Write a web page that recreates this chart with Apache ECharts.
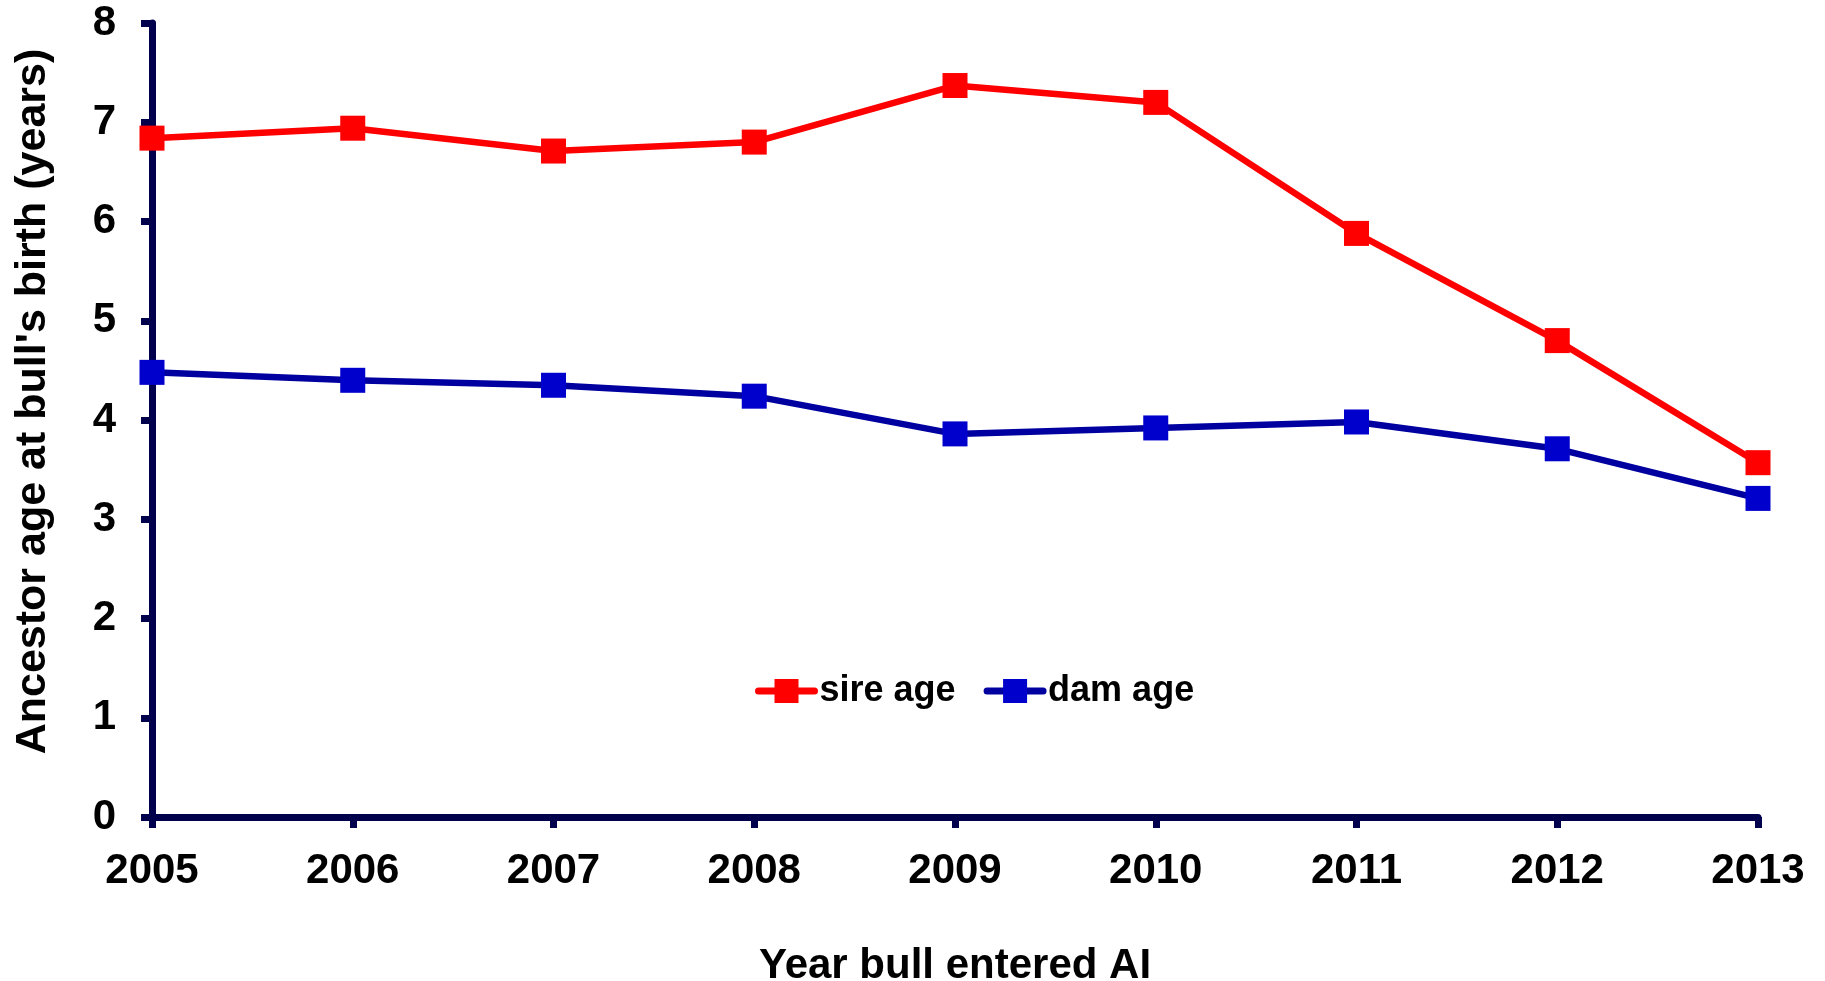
<!DOCTYPE html>
<html>
<head>
<meta charset="utf-8">
<title>Ancestor age at bull's birth</title>
<script src="https://cdn.jsdelivr.net/npm/echarts@6/dist/echarts.min.js"></script>
<style>
  html, body { margin: 0; padding: 0; background: #ffffff; }
  #chart { width: 1825px; height: 981px; }
</style>
</head>
<body>
<div id="chart"></div>
<script>
// Year the bull entered AI
const years = ['2005', '2006', '2007', '2008', '2009', '2010', '2011', '2012', '2013'];
// Age of sire at bull's birth (years)
const sireAge = [6.84, 6.94, 6.71, 6.80, 7.37, 7.20, 5.88, 4.80, 3.57];
// Age of dam at bull's birth (years)
const damAge = [4.48, 4.40, 4.35, 4.24, 3.86, 3.92, 3.98, 3.71, 3.21];

const FONT = '"Liberation Sans", Arial, Helvetica, sans-serif';
const AXIS_COLOR = '#00004d';

const chart = echarts.init(document.getElementById('chart'), null, { renderer: 'canvas' });

chart.setOption({
  backgroundColor: '#ffffff',
  animation: false,
  grid: { left: 152, right: 67, top: 23, bottom: 164, containLabel: false, outerBoundsMode: 'none' },
  legend: {
    left: 750,
    top: 668,
    itemWidth: 56,
    itemHeight: 30,
    itemGap: 28,
    lineStyle: { width: 7, cap: 'round' },
    textStyle: { fontFamily: FONT, fontWeight: 'bold', fontSize: 36, color: '#000000' },
    data: ['sire age', 'dam age']
  },
  xAxis: {
    type: 'category',
    data: years,
    boundaryGap: false,
    name: 'Year bull entered AI',
    nameLocation: 'middle',
    nameGap: 128,
    nameTextStyle: { fontFamily: FONT, fontWeight: 'bold', fontSize: 42, color: '#000000' },
    axisLine: { lineStyle: { color: AXIS_COLOR, width: 7 } },
    axisTick: { show: true, alignWithLabel: true, length: 11, lineStyle: { color: AXIS_COLOR, width: 7 } },
    axisLabel: { margin: 33, fontFamily: FONT, fontWeight: 'bold', fontSize: 42, color: '#000000' },
    splitLine: { show: false }
  },
  yAxis: {
    type: 'value',
    min: 0,
    max: 8,
    interval: 1,
    name: "Ancestor age at bull's birth (years)",
    nameLocation: 'middle',
    nameGap: 97,
    nameTextStyle: { fontFamily: FONT, fontWeight: 'bold', fontSize: 43, color: '#000000', padding: [0, 0, 0, 37] },
    axisLine: { show: true, lineStyle: { color: AXIS_COLOR, width: 7 } },
    axisTick: { show: true, length: 11, lineStyle: { color: AXIS_COLOR, width: 7 } },
    axisLabel: { margin: 36, fontFamily: FONT, fontWeight: 'bold', fontSize: 42, color: '#000000' },
    splitLine: { show: false }
  },
  series: [
    {
      name: 'sire age',
      type: 'line',
      data: sireAge,
      symbol: 'rect',
      symbolSize: 25,
      itemStyle: { color: '#ff0000' },
      lineStyle: { color: '#ff0000', width: 6.5 },
      z: 3
    },
    {
      name: 'dam age',
      type: 'line',
      data: damAge,
      symbol: 'rect',
      symbolSize: 25,
      itemStyle: { color: '#0000cc' },
      lineStyle: { color: '#0000a0', width: 6.5 },
      z: 2
    }
  ]
});
</script>
</body>
</html>
